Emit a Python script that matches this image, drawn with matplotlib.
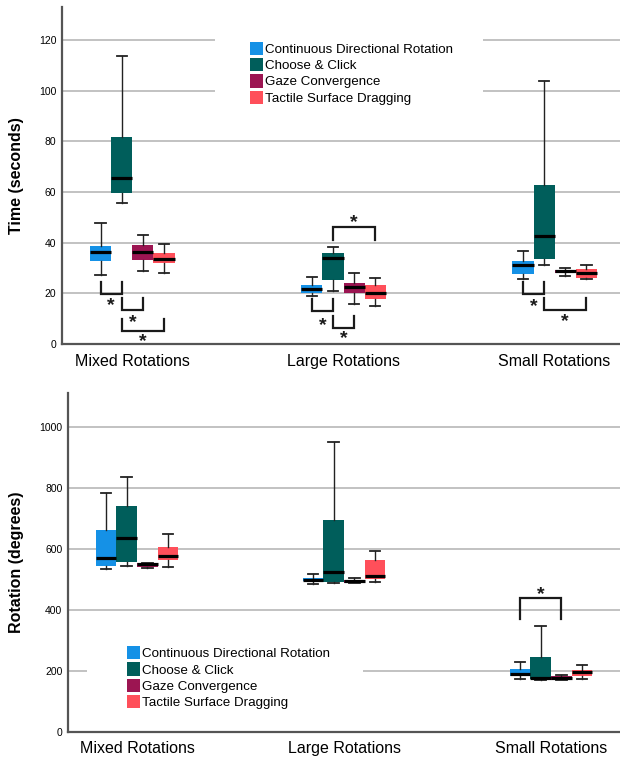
import matplotlib
matplotlib.use('Agg')
import matplotlib.pyplot as plt
from matplotlib.patches import Patch, Rectangle

plt.rcParams['font.family'] = ['Liberation Sans', 'DejaVu Sans']

groups = ['Mixed Rotations', 'Large Rotations', 'Small Rotations']
methods = ['Continuous Directional Rotation', 'Choose & Click',
           'Gaze Convergence', 'Tactile Surface Dragging']
colors = ['#1591e6', '#005e5b', '#9c1552', '#ff4f5a']

# five-number summaries per group: whisker low, Q1, median, Q3, whisker high
time_cdr = [(27.3, 32.6, 36.4, 38.8, 47.7), (19.0, 20.3, 21.9, 23.3, 26.6), (25.6, 27.8, 31.3, 32.8, 36.8)]
time_cc = [(55.5, 59.6, 65.5, 81.6, 113.6), (21.0, 25.3, 33.9, 36.0, 38.1), (31.3, 33.5, 42.7, 62.9, 103.9)]
time_gc = [(28.9, 33.3, 36.5, 39.2, 43.0), (15.9, 20.3, 22.5, 24.1, 28.2), (26.8, 28.0, 28.8, 29.4, 29.9)]
time_tsd = [(28.0, 31.8, 33.6, 36.0, 39.4), (15.0, 17.9, 20.1, 23.1, 26.0), (25.6, 26.2, 28.2, 29.7, 31.3)]

rot_cdr = [(535, 545, 571, 663, 783), (486, 494, 498, 504, 517), (174, 182, 188, 205, 228)]
rot_cc = [(542, 557, 637, 741, 834), (489, 490, 524, 695, 949), (171, 172, 176, 245, 348)]
rot_gc = [(537, 540, 549, 552, 555), (488, 488.5, 494, 498, 503), (170, 171, 175, 182, 186)]
rot_tsd = [(540, 563, 575, 607, 649), (492, 500, 510, 564, 594), (173, 182, 196, 203, 220)]

# significance brackets: group, box a, box b, tip y, bar y, star y
time_sig = [(0, 0, 1, 24.4, 19.9, 16.7), (0, 1, 2, 18.1, 13.4, 10.2), (0, 1, 3, 9.9, 5.3, 2.5),
            (1, 0, 1, 17.7, 13.1, 9.1), (1, 1, 2, 11.1, 6.5, 3.8), (1, 1, 3, 41.1, 46.3, 49.4),
            (2, 0, 1, 24.6, 19.9, 16.5), (2, 1, 3, 18.3, 13.4, 10.6)]
rot_sig = [(2, 0, 2, 369, 437, 463)]

width = 0.1
offsets = [-1.5 * width, -0.5 * width, 0.5 * width, 1.5 * width]


def draw_panel(ax, series, sig, ymax, yticks, ylabel):
    for k, data in enumerate(series):
        stats = [dict(whislo=a, q1=b, med=c, q3=d, whishi=e, fliers=[]) for a, b, c, d, e in data]
        pos = [g + offsets[k] for g in range(len(groups))]
        ax.bxp(stats, positions=pos, widths=width, patch_artist=True, showfliers=False,
               capwidths=width / 2, manage_ticks=False,
               boxprops=dict(facecolor=colors[k], edgecolor=colors[k], linewidth=0),
               medianprops=dict(color='black', linewidth=2.3, solid_capstyle='butt'),
               whiskerprops=dict(color='#222222', linewidth=1.0),
               capprops=dict(color='#222222', linewidth=1.3))
    for g, a, b, tip, bar, star in sig:
        xa, xb = g + offsets[a], g + offsets[b]
        ax.plot([xa, xa, xb, xb], [tip, bar, bar, tip], color='#1a1a1a', lw=1.6,
                solid_joinstyle='miter', zorder=4)
        ax.annotate('*', ((xa + xb) / 2, star), xytext=(0, -3), textcoords='offset points',
                    ha='center', va='center', fontsize=14, fontweight='bold', color='#1a1a1a')
    ax.set_xlim(-1 / 3, 7 / 3)
    ax.set_ylim(0, ymax)
    ax.set_yticks(yticks)
    ax.set_xticks(range(len(groups)))
    ax.set_xticklabels(groups, fontsize=11.5)
    ax.tick_params(axis='y', length=0, labelsize=7.5, pad=4)
    ax.tick_params(axis='x', length=0, pad=7)
    ax.set_ylabel(ylabel, fontsize=11.5, fontweight='bold')
    ax.yaxis.grid(True, color='#b8b8b8', lw=1.2)
    ax.set_axisbelow(True)
    for s in ['top', 'right']:
        ax.spines[s].set_visible(False)
    for s in ['left', 'bottom']:
        ax.spines[s].set_color('#555555')
        ax.spines[s].set_linewidth(1.6)


fig = plt.figure(figsize=(6.2, 7.57), dpi=100)
ax1 = fig.add_axes([62 / 620, 1 - 344 / 757, 563 / 620, 337 / 757])
ax2 = fig.add_axes([68 / 620, 1 - 731.7 / 757, 552 / 620, 338.4 / 757])

draw_panel(ax1, [time_cdr, time_cc, time_gc, time_tsd], time_sig, 133,
           range(0, 121, 20), 'Time (seconds)')
draw_panel(ax2, [rot_cdr, rot_cc, rot_gc, rot_tsd], rot_sig, 1110,
           range(0, 1001, 200), 'Rotation (degrees)')
ax1.yaxis.set_label_coords(-0.068, 0.5)
ax2.yaxis.set_label_coords(-0.08, 0.5)

# white legend backgrounds that break the gridlines
ax1.add_patch(Rectangle((215 / 620, 1 - 137 / 757), 268 / 620, 127 / 757,
                        transform=fig.transFigure, facecolor='white', edgecolor='none', zorder=1))
ax2.add_patch(Rectangle((87 / 620, 1 - 727 / 757), 276 / 620, 113 / 757,
                        transform=fig.transFigure, facecolor='white', edgecolor='none', zorder=1))

handles = [Patch(facecolor=c, edgecolor='none') for c in colors]
leg_kw = dict(loc='upper left', bbox_transform=fig.transFigure, borderaxespad=0, borderpad=0,
              fontsize=9.6, handlelength=1.0, handleheight=1.15, labelspacing=0.17,
              handletextpad=0.15, frameon=False)
ax1.legend(handles, methods, bbox_to_anchor=(250 / 620, 1 - 41.5 / 757), **leg_kw)
ax2.legend(handles, methods, bbox_to_anchor=(127 / 620, 1 - 646 / 757), **leg_kw)

fig.savefig('out.png', dpi=100)
